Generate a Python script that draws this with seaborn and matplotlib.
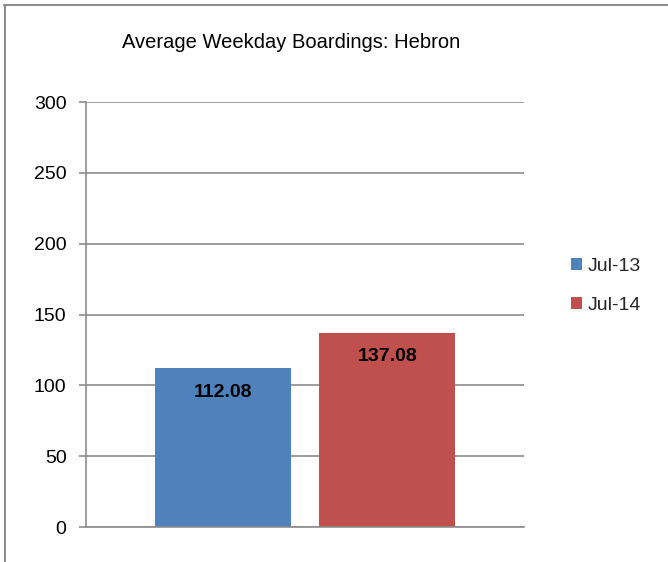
import matplotlib
matplotlib.use("Agg")
import matplotlib.pyplot as plt
from matplotlib.lines import Line2D
import seaborn as sns
import pandas as pd

# Chart data
route = ["Hebron", "Hebron"]
periods = ["Jul-13", "Jul-14"]
boardings = [112.08, 137.08]
bar_colors = ["#4F81BD", "#C0504D"]
y_ticks = [0, 50, 100, 150, 200, 250, 300]

df = pd.DataFrame({"route": route, "period": periods, "boardings": boardings})

sns.set_theme(style="white")
plt.rcParams["font.family"] = ["Liberation Sans", "DejaVu Sans"]

fig = plt.figure(figsize=(6.68, 5.62), dpi=100)
ax = fig.add_axes([86 / 668, 1 - 527 / 562, (524 - 86) / 668, (527 - 102) / 562])

sns.barplot(data=df, x="route", y="boardings", hue="period",
            palette=bar_colors, width=0.751, gap=0.17, saturation=1,
            linewidth=0, ax=ax, legend=True)

ax.set_xlim(-0.5, 0.5)
ax.set_ylim(0, 300)
ax.set_yticks(y_ticks)
ax.set_yticklabels([str(t) for t in y_ticks], fontsize=14, color="black")
ax.set_xticks([])
ax.set_xlabel("")
ax.set_ylabel("")

# Horizontal gridlines behind the bars
ax.set_axisbelow(True)
ax.yaxis.grid(True, color="#8c8c8c", linewidth=1.2)
ax.xaxis.grid(False)

for side in ("top", "right"):
    ax.spines[side].set_visible(False)
for side in ("left", "bottom"):
    ax.spines[side].set_color("#8c8c8c")
    ax.spines[side].set_linewidth(1.2)
ax.tick_params(axis="y", which="major", left=True, length=5, width=1.2,
               color="#8c8c8c", pad=9)

# Value labels inside the top of each bar
for container in ax.containers:
    for bar in container:
        h = bar.get_height()
        ax.annotate(f"{h:.2f}", (bar.get_x() + bar.get_width() / 2, h),
                    xytext=(0, -24), textcoords="offset pixels",
                    ha="center", va="center", fontsize=14, fontweight="bold",
                    color="black")

# Legend to the right of the plot
handles, labels = ax.get_legend_handles_labels()
ax.legend(handles, labels, loc="center left", bbox_to_anchor=(571 / 668, 1 - 286 / 562),
          bbox_transform=fig.transFigure, frameon=False, fontsize=14,
          handlelength=0.55, handleheight=0.55, handletextpad=0.3, labelspacing=1.15,
          borderaxespad=0, borderpad=0)

fig.text(291 / 668, 1 - 43 / 562, "Average Weekday Boardings: Hebron",
         ha="center", va="center", fontsize=14.5, color="black")

# Outer chart frame (top and left edges)
fig.add_artist(Line2D([4 / 668, 1], [1 - 5 / 562, 1 - 5 / 562],
                      transform=fig.transFigure, color="#8c8c8c", linewidth=1.5))
fig.add_artist(Line2D([5 / 668, 5 / 668], [0, 1 - 5 / 562],
                      transform=fig.transFigure, color="#8c8c8c", linewidth=1.5))

fig.savefig("out.png", dpi=100)
